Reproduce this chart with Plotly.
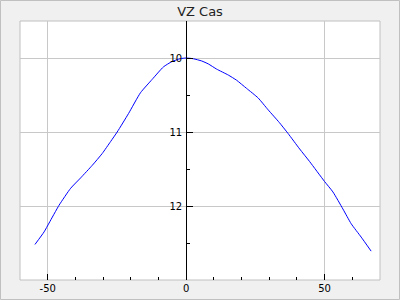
import plotly.graph_objects as go

title_text = "VZ Cas"
phase = [-54.6, -51.3, -49.5, -45.9, -41.7, -38.1, -33.9, -30.3, -27.3, -24.9, -20.8, -16.5,
         -12.3, -8.2, -5.2, -2.2, 0.0, 2.6, 5.6, 8.0, 11.0, 15.2, 18.2, 21.8, 26.0, 29.6,
         33.6, 36.8, 41.0, 44.6, 50.0, 53.0, 56.6, 59.6, 63.2, 66.8]
mag = [12.52, 12.35, 12.23, 11.99, 11.76, 11.62, 11.45, 11.29, 11.13, 11.00, 10.75, 10.47,
       10.29, 10.12, 10.05, 10.01, 10.00, 10.01, 10.04, 10.08, 10.15, 10.23, 10.30, 10.41,
       10.54, 10.70, 10.87, 11.02, 11.23, 11.40, 11.67, 11.81, 12.04, 12.24, 12.42, 12.61]
x_tickvals = [-50, 0, 50]
x_ticktext = ["-50", "0", "50"]
y_tickvals = [10, 11, 12]
y_ticktext = ["10", "11", "12"]

W, H = 400, 300
L, R, T, B = 20, 20, 21, 20
pw, ph = W - L - R, H - T - B
xr = [-60, 70]

fig = go.Figure()
fig.add_trace(go.Scatter(x=phase, y=mag, mode="lines",
                         line=dict(color="#0000ff", width=1, shape="spline", smoothing=0.5),
                         hoverinfo="skip"))

font = dict(family="DejaVu Sans", size=10, color="#000000")
fig.update_layout(
    width=W, height=H, margin=dict(l=L, r=R, t=T, b=B, autoexpand=False),
    paper_bgcolor="#f0f0f0", plot_bgcolor="#ffffff",
    showlegend=False,
    title=dict(text=title_text, x=0.5, xanchor="center", y=1 - 11 / H, yanchor="middle",
               font=dict(family="DejaVu Sans", size=13, color="#222222"), automargin=False),
    xaxis=dict(range=xr, tickmode="array", tickvals=x_tickvals, ticktext=x_ticktext,
               ticks="inside", ticklen=6, tickcolor="#000000", tickfont=font,
               showgrid=True, gridcolor="#c8c8c8", gridwidth=1, zeroline=False,
               showline=False, automargin=False, ticklabelstandoff=1,
               minor=dict(dtick=10, ticks="inside", ticklen=3, tickcolor="#000000", showgrid=False)),
    yaxis=dict(range=[13.0, 9.5], tickmode="array", tickvals=y_tickvals, ticktext=y_ticktext,
               anchor="free", position=(0 - xr[0]) / (xr[1] - xr[0]),
               ticks="inside", ticklen=6, tickcolor="#000000", tickfont=font,
               ticklabelstandoff=2, automargin=False,
               showline=True, linecolor="#000000", linewidth=1,
               showgrid=True, gridcolor="#c8c8c8", gridwidth=1, zeroline=False,
               minor=dict(dtick=0.5, tick0=9.5, ticks="inside", ticklen=3, tickcolor="#000000", showgrid=False)),
    shapes=[
        dict(type="rect", xref="paper", yref="paper", x0=0, x1=1, y0=0, y1=1,
             line=dict(color="#c0c0c0", width=1), layer="below"),
        dict(type="rect", xref="paper", yref="paper",
             x0=(0.5 - L) / pw, x1=(W - 0.5 - L) / pw,
             y0=(-B + 0.5) / ph, y1=(ph + T - 0.5) / ph,
             line=dict(color="#c0c0c0", width=1), layer="below"),
    ],
)
fig.write_html("out.html")
